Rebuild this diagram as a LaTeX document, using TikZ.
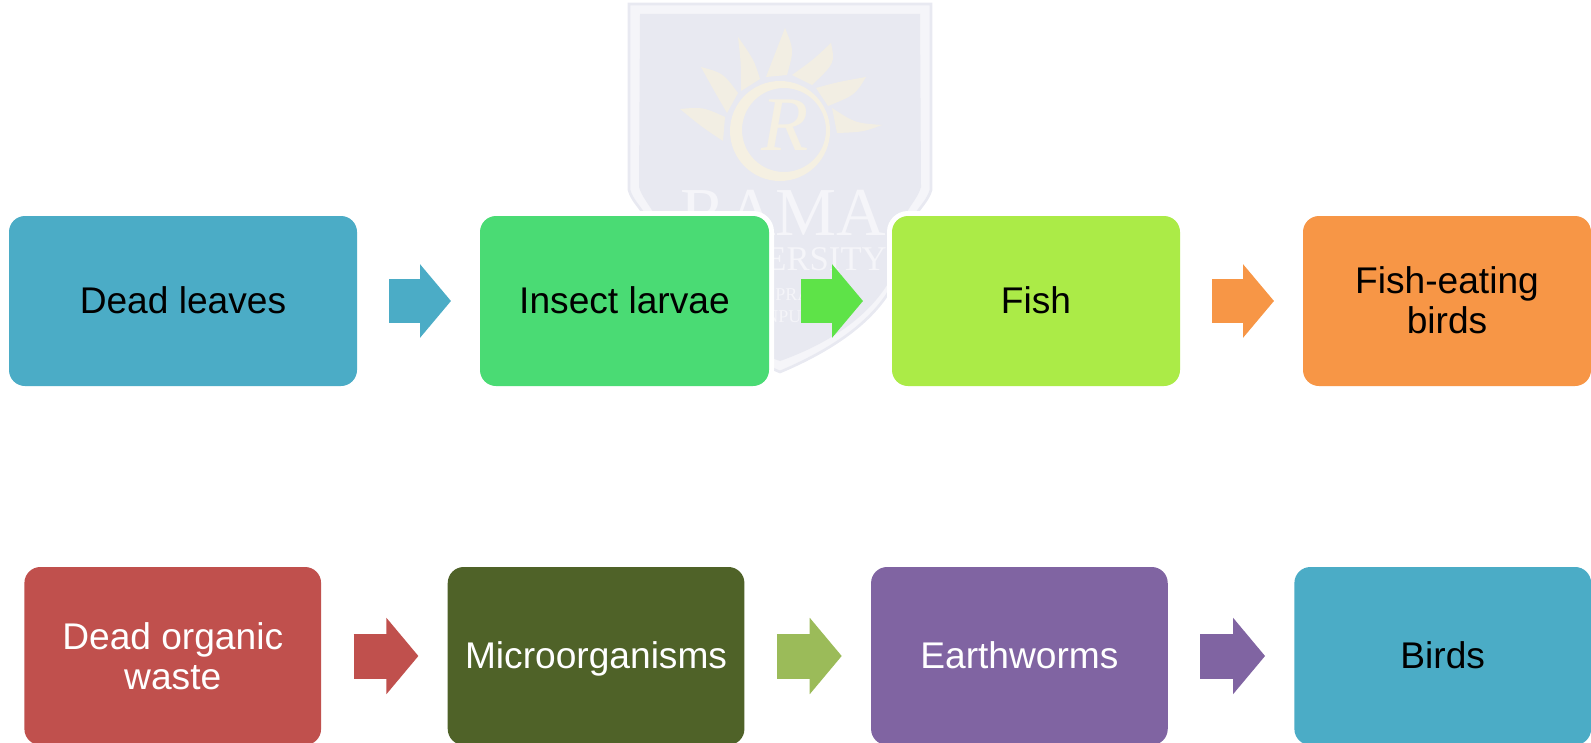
\documentclass[tikz,border=0pt]{standalone}
\usepackage{fontspec}
\setmainfont{Liberation Sans}
\newfontfamily\crestfont{Liberation Serif}
\usetikzlibrary{arrows.meta,positioning}
\definecolor{LeafTeal}{HTML}{4BACC6}
\definecolor{LarvaGreen}{HTML}{4ADB74}
\definecolor{LarvaArrow}{HTML}{5EE348}
\definecolor{FishLime}{HTML}{ABEB47}
\definecolor{BirdOrange}{HTML}{F79646}
\definecolor{WasteRed}{HTML}{C0504D}
\definecolor{MicrobeOlive}{HTML}{4F6228}
\definecolor{MicrobeArrow}{HTML}{9BBB59}
\definecolor{WormPurple}{HTML}{8064A2}
\definecolor{CrestPanel}{HTML}{E8E9F1}
\definecolor{CrestBand}{HTML}{F5F5F9}
\definecolor{CrestSun}{HTML}{F2EEE3}
\definecolor{CrestRing}{HTML}{F5F0E2}
\begin{document}
\begin{tikzpicture}[
      x=0.75pt,y=-0.75pt,
      flowbox/.style={rounded corners=12pt,outer sep=0pt,inner sep=0pt,align=center,
                      minimum height=127.5pt,text=black,text height=18pt,text depth=0pt,
                      font=\fontsize{27.85}{30}\selectfont,
                      preaction={draw=white,line width=7.5pt}},
      lowbox/.style={flowbox,minimum width=222.5pt,minimum height=133.5pt,text height=19pt},
      blockarr/.style={-{Triangle[length=23.25pt,width=54pt]},line width=33pt,
                       shorten <=24pt,shorten >=21.75pt},
      lowarr/.style={-{Triangle[length=24pt,width=56pt]},line width=33.75pt,
                     shorten <=24.4pt,shorten >=22pt},
      crestword/.style={text=CrestBand,inner sep=0pt,anchor=base west},
    ]
    \useasboundingbox (0,0) rectangle (1591,742);

    % crest behind the top row
    \draw[fill=CrestBand,draw=CrestPanel,line width=2pt]
      (629,4) -- (931,4) -- (931,190) .. controls (928,200) and (922,205) .. (917,213)
      .. controls (910,245) and (900,270) .. (887,295) .. controls (865,328) and (825,353) .. (780,372)
      .. controls (735,353) and (695,328) .. (673,295) .. controls (660,270) and (650,245) .. (643,213)
      .. controls (638,205) and (632,200) .. (629,190) -- cycle;
    \fill[CrestPanel]
      (640,14) -- (920,14) -- (921,187) .. controls (918,197) and (912,203) .. (907,212)
      .. controls (903,240) and (897,265) .. (887,285) .. controls (865,320) and (825,345) .. (780,361)
      .. controls (735,345) and (695,320) .. (673,285) .. controls (663,265) and (657,240) .. (653,212)
      .. controls (648,203) and (642,197) .. (639,187) -- cycle;

    % sun rays
    \foreach \tip/\ctla/\foota/\footb/\ctlb in {
        {680,109}/{703,107}/{725,117}/{723,141}/{702,127},
        {701,67}/{723,73}/{738,93}/{727,113}/{712,87},
        {738,37}/{754,60}/{760,79}/{741,91}/{741,63},
        {785,28}/{794,50}/{787,75}/{766,77}/{775,53},
        {831,43}/{835,63}/{812,85}/{792,75}/{813,60},
        {866,77}/{855,95}/{828,106}/{816,88}/{838,82},
        {882,125}/{863,132}/{837,133}/{832,108}/{855,123}}
      \fill[CrestSun] (\tip) .. controls (\ctla) .. (\foota) -- (\footb) .. controls (\ctlb) .. cycle;
    \fill[CrestRing,even odd rule] (780,131) circle[radius=50] (784,130) circle[radius=42];
    \node[inner sep=0pt,text=CrestRing,font=\crestfont\itshape\fontsize{58}{58}\selectfont] (crestr) at (785,125) {R};

    \node[crestword,font=\crestfont\fontsize{51.5}{51.5}\selectfont] (crestrama) at (680,235) {RAMA};
    \node[crestword,anchor=base east,font=\crestfont\fontsize{26}{26}\selectfont] (crestuni) at (887,270) {ERSITY};
    \node[crestword,font=\crestfont\fontsize{13.5}{13.5}\selectfont] (crestpra) at (775,300) {PRA};
    \node[crestword,font=\crestfont\fontsize{13.5}{13.5}\selectfont] (crestnpu) at (765,322) {NPU};

    % top row
    \node[flowbox,fill=LeafTeal,minimum width=261pt,anchor=north west] (leaves) at (9,216) {Dead leaves};
    \node[flowbox,fill=LarvaGreen,minimum width=216.75pt,right=92.25pt of leaves] (larvae) {Insect larvae};
    \node[flowbox,fill=FishLime,minimum width=216pt,right=92.25pt of larvae] (fish) {Fish};
    \node[flowbox,fill=BirdOrange,minimum width=216pt,text height=48pt,right=92.25pt of fish] (fbirds) {Fish-eating\\birds};

    % bottom row
    \node[lowbox,fill=WasteRed,text=white,text height=50pt,anchor=north west] (waste) at (24.4,567) {Dead organic\\waste};
    \node[lowbox,fill=MicrobeOlive,text=white,right=95pt of waste] (microbes) {Microorganisms};
    \node[lowbox,fill=WormPurple,text=white,right=95pt of microbes] (worms) {Earthworms};
    \node[lowbox,fill=LeafTeal,right=95pt of worms] (birds) {Birds};

    \draw[blockarr,LeafTeal] (leaves) -- (larvae);
    \draw[blockarr,LarvaArrow] (larvae) -- (fish);
    \draw[blockarr,BirdOrange] (fish) -- (fbirds);
    \draw[lowarr,WasteRed] (waste) -- (microbes);
    \draw[lowarr,MicrobeArrow] (microbes) -- (worms);
    \draw[lowarr,WormPurple] (worms) -- (birds);
  \end{tikzpicture}
\end{document}
